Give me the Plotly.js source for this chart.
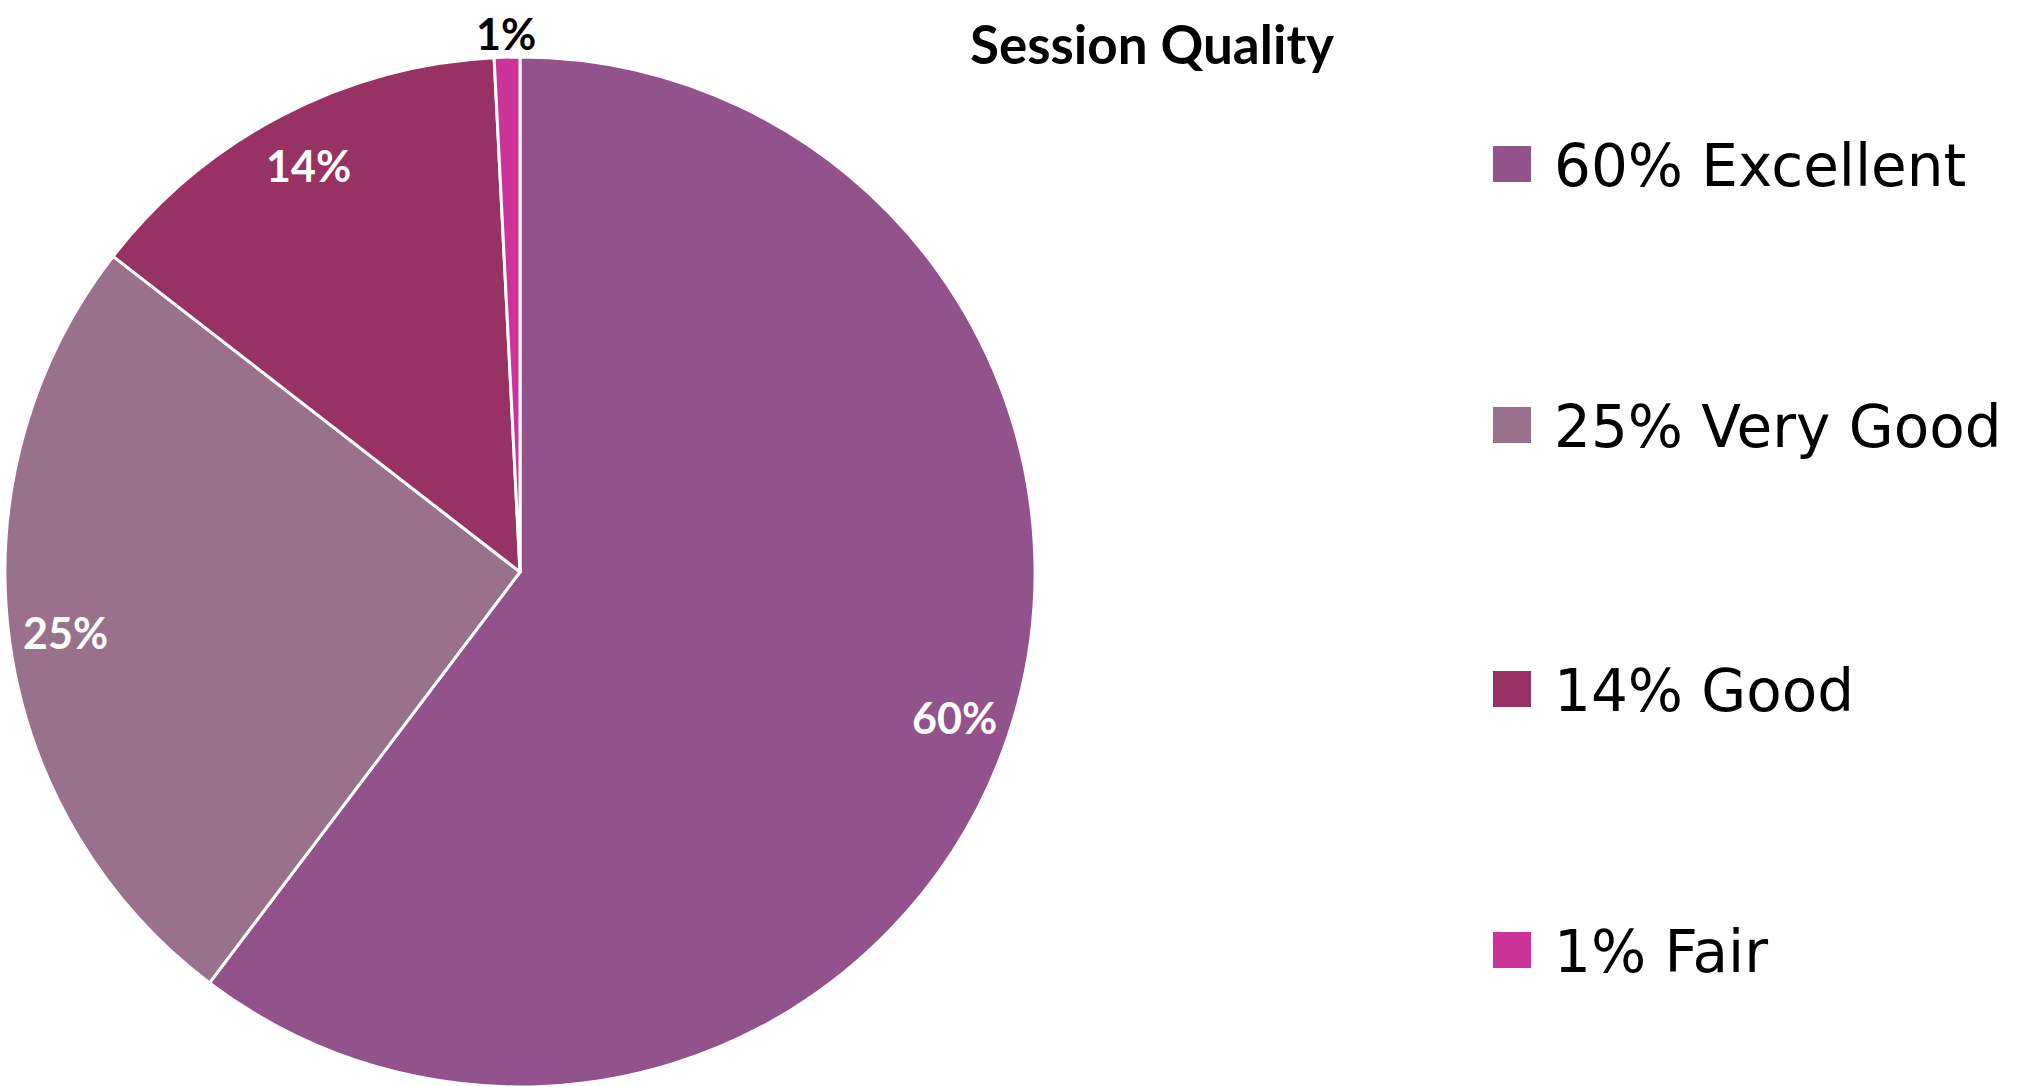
<!DOCTYPE html>
<html>
<head>
<meta charset="utf-8">
<script src="https://cdn.plot.ly/plotly-3.0.1.min.js"></script>
<style>html,body{margin:0;padding:0;background:#fff;}#chart{width:2019px;height:1087px;}</style>
</head>
<body>
<div id="chart"></div>
<script>
// ---- data ----
const categories = ["Excellent", "Very Good", "Good", "Fair"];
const values = [60.3, 25.2, 13.7, 0.8];
const legendLabels = ["60% Excellent", "25% Very Good", "14% Good", "1% Fair"];
const sliceLabels = ["60%", "25%", "14%", "1%"];
const colors = ["#92528C", "#99718D", "#993264", "#CC3399"];
const chartTitle = "Session Quality";

// ---- geometry (layout) ----
const W = 2019, H = 1087;
const dom = {x: [5 / W, 1035 / W], y: [0, 1030 / H]};
const cx = (dom.x[0] + dom.x[1]) / 2 * W;
const cy = (dom.y[0] + dom.y[1]) / 2 * H; // from bottom
const R = Math.min((dom.x[1] - dom.x[0]) * W, (dom.y[1] - dom.y[0]) * H) / 2;

const total = values.reduce((a, b) => a + b, 0);
const annotations = [];
let cum = 0;
values.forEach((v, i) => {
  const frac = v / total;
  const theta = 2 * Math.PI * (cum + frac / 2);
  cum += frac;
  const small = frac < 0.05;
  const rr = small ? 1.045 * R : 0.89 * R;
  annotations.push({
    xref: "paper", yref: "paper",
    x: (cx + rr * Math.sin(theta)) / W,
    y: (cy + rr * Math.cos(theta)) / H,
    xanchor: "center", yanchor: "middle",
    borderpad: 0,
    text: sliceLabels[i], showarrow: false,
    font: {family: "Lato", size: 43, color: small ? "#000000" : "#FFFFFF", weight: 700}
  });
});

// custom legend
const legendX0 = 1493, swW = 38, swH = 36, textX = 1552;
const legendRowY = [164, 425, 689, 950]; // from top
const shapes = [];
legendLabels.forEach((lab, i) => {
  const yc = H - legendRowY[i];
  shapes.push({
    type: "rect", xref: "paper", yref: "paper",
    x0: legendX0 / W, x1: (legendX0 + swW) / W,
    y0: (yc - swH / 2) / H, y1: (yc + swH / 2) / H,
    fillcolor: colors[i], line: {width: 0}
  });
  annotations.push({
    xref: "paper", yref: "paper",
    x: textX / W, y: (yc - 2) / H,
    xanchor: "left", yanchor: "middle",
    text: lab, showarrow: false,
    font: {family: "DejaVu Sans", size: 58, color: "#000000"}
  });
});

const data = [{
  type: "pie",
  labels: categories,
  values: values,
  sort: false,
  direction: "clockwise",
  rotation: 0,
  marker: {colors: colors, line: {color: "#FFFFFF", width: 3}},
  textinfo: "none",
  hoverinfo: "label+percent",
  showlegend: false,
  domain: dom
}];

const layout = {
  width: W, height: H,
  margin: {l: 0, r: 0, t: 0, b: 0},
  paper_bgcolor: "#FFFFFF",
  showlegend: false,
  title: {
    text: chartTitle,
    x: 1152 / W, xanchor: "center",
    y: 1 - 45 / H, yanchor: "middle",
    font: {family: "Lato", size: 53, color: "#000000", weight: 700}
  },
  annotations: annotations,
  shapes: shapes
};

Plotly.newPlot("chart", data, layout, {displayModeBar: false, staticPlot: true});
</script>
</body>
</html>
